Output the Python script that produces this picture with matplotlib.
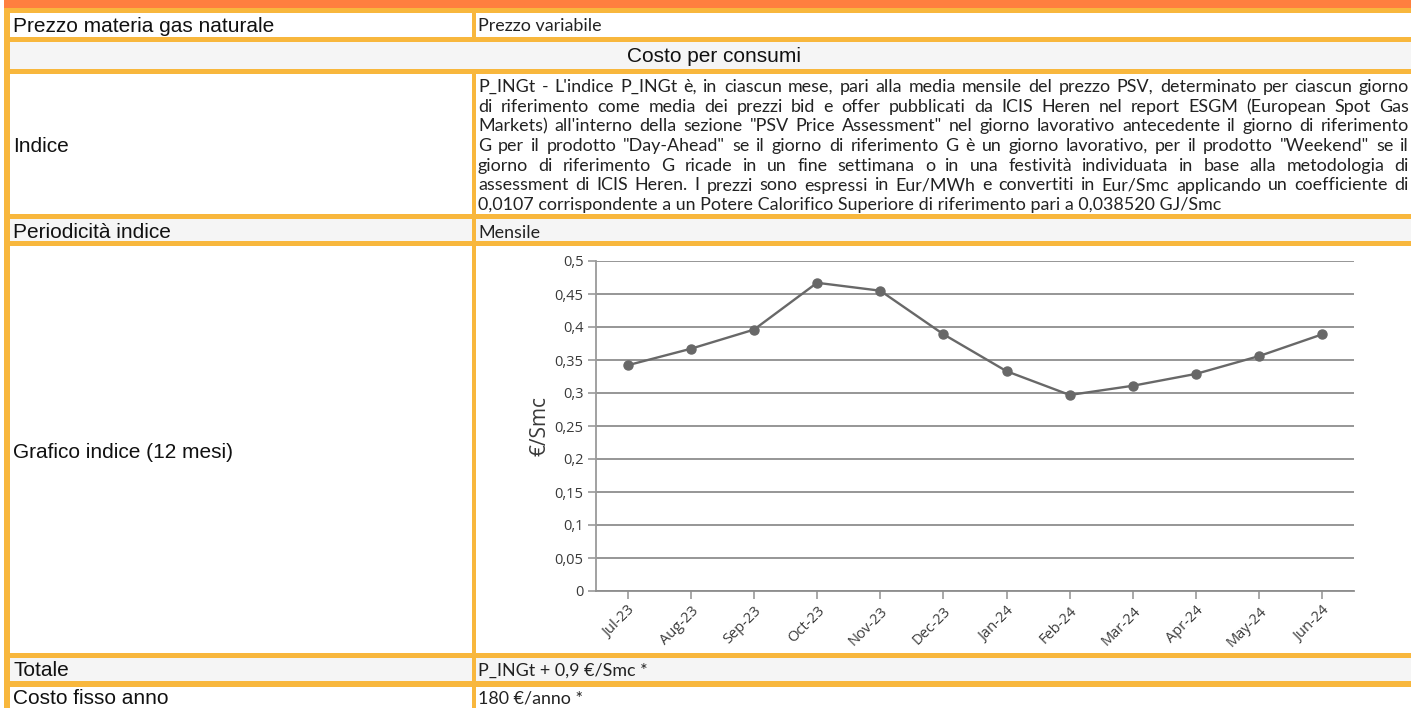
import numpy as np
import matplotlib
matplotlib.use('Agg')
import matplotlib.pyplot as plt
from matplotlib.patches import Rectangle

# chart data
months = ['Jul-23', 'Aug-23', 'Sep-23', 'Oct-23', 'Nov-23', 'Dec-23',
          'Jan-24', 'Feb-24', 'Mar-24', 'Apr-24', 'May-24', 'Jun-24']
prices = [0.342, 0.367, 0.396, 0.467, 0.455, 0.389,
          0.333, 0.297, 0.311, 0.329, 0.356, 0.389]
yticks = [0, 0.05, 0.1, 0.15, 0.2, 0.25, 0.3, 0.35, 0.4, 0.45, 0.5]
ylabel = '€/Smc'

# table text
left_labels = ['Prezzo materia gas naturale', 'Indice', 'Periodicità indice',
               'Grafico indice (12 mesi)', 'Totale', 'Costo fisso anno']
section_title = 'Costo per consumi'
right_values = ['Prezzo variabile', 'Mensile', 'P_INGt + 0,9 €/Smc *', '180 €/anno *']
index_lines = [
    "P_INGt - L'indice P_INGt è, in ciascun mese, pari alla media mensile del prezzo PSV, determinato per ciascun giorno",
    "di riferimento come media dei prezzi bid e offer pubblicati da ICIS Heren nel report ESGM (European Spot Gas",
    "Markets) all'interno della sezione \"PSV Price Assessment\" nel giorno lavorativo antecedente il giorno di riferimento",
    "G per il prodotto \"Day-Ahead\" se il giorno di riferimento G è un giorno lavorativo, per il prodotto \"Weekend\" se il",
    "giorno di riferimento G ricade in un fine settimana o in una festività individuata in base alla metodologia di",
    "assessment di ICIS Heren. I prezzi sono espressi in Eur/MWh e convertiti in Eur/Smc applicando un coefficiente di",
    "0,0107 corrispondente a un Potere Calorifico Superiore di riferimento pari a 0,038520 GJ/Smc",
]

W, H = 1411, 708
ORANGE = '#ff7f3f'
YELLOW = '#f8b73d'
GRAY = '#f5f5f5'
LABEL_FONT = ['Liberation Sans', 'DejaVu Sans']
BODY_FONT = ['Lato', 'DejaVu Sans']
CHART_FONT = ['Open Sans', 'DejaVu Sans']

fig = plt.figure(figsize=(W / 100, H / 100), dpi=100)
bg = fig.add_axes([0, 0, 1, 1])
bg.set_xlim(0, W)
bg.set_ylim(H, 0)
bg.axis('off')
renderer = fig.canvas.get_renderer()

# frame: orange strip on top, yellow grid lines underneath the cells
bg.add_patch(Rectangle((4, 0), W, 7.5, color=ORANGE, lw=0))
bg.add_patch(Rectangle((4, 7.5), W, H, color=YELLOW, lw=0))

rows = [(12.7, 36.7, 'white'), (41.7, 69, GRAY), (74, 213.5, 'white'),
        (218.5, 240.7, GRAY), (246, 653.3, 'white'), (658.3, 680.7, GRAY),
        (686.7, H, 'white')]
split_l, split_r = 471.5, 476
for i, (top, bot, col) in enumerate(rows):
    if i == 1:
        bg.add_patch(Rectangle((10, top), W, bot - top, color=col, lw=0))
    else:
        bg.add_patch(Rectangle((10, top), split_l - 10, bot - top, color=col, lw=0))
        bg.add_patch(Rectangle((split_r, top), W, bot - top, color=col, lw=0))


def row_mid(r):
    top, bot, _ = rows[r]
    # browser puts the text a little below the exact middle
    return (top + bot) / 2 + (3 if bot - top > 60 else 1.5)


# left column labels
label_rows = [0, 2, 3, 4, 5, 6]
for lab, r in zip(left_labels, label_rows):
    bg.text(13, row_mid(r) if r != 3 else row_mid(r) + 1.5, lab, fontsize=15,
            family=LABEL_FONT, color='#111111', va='center', ha='left')

bg.text(714, row_mid(1), section_title, fontsize=15,
        family=LABEL_FONT, color='#111111', va='center', ha='center')

# body font size: fit the last (unjustified) paragraph line to its width in the reference
probe = bg.text(0, 0, index_lines[-1], fontsize=11, family=BODY_FONT)
body_fs = 11 * 744 / probe.get_window_extent(renderer).width
probe.remove()

# right column single values
for val, r in zip(right_values, [0, 3, 5, 6]):
    bg.text(478, row_mid(r) if r != 3 else row_mid(r) + 1.5, val, fontsize=body_fs,
            family=BODY_FONT, color='#222222', va='center', ha='left')

# justified paragraph
x0, x1 = 478, 1409
for i, line in enumerate(index_lines):
    y = 87 + i * 19.7
    if i == len(index_lines) - 1:
        bg.text(x0, y, line, fontsize=body_fs, family=BODY_FONT, color='#222222',
                va='center', ha='left')
        continue
    words = line.split(' ')
    arts = [bg.text(0, y, w, fontsize=body_fs, family=BODY_FONT, color='#222222',
                    va='center', ha='left') for w in words]
    widths = [a.get_window_extent(renderer).width for a in arts]
    gap = (x1 - x0 - sum(widths)) / (len(words) - 1)
    x = x0
    for a, w in zip(arts, widths):
        a.set_x(x)
        x += w + gap

# line chart
ax_l, ax_r, ax_t, ax_b = 596, 1354, 261, 591
ax = fig.add_axes([ax_l / W, (H - ax_b) / H, (ax_r - ax_l) / W, (ax_b - ax_t) / H])
ax.set_facecolor('none')
xs = np.arange(len(months))
ax.plot(xs, prices, color='#686868', lw=1.7, marker='o', markersize=6.5, zorder=3)
ax.set_xlim(-0.5, len(months) - 0.5)
ax.set_ylim(0, 0.5)
ax.set_yticks(yticks)
ax.set_yticklabels([('%g' % v).replace('.', ',') for v in yticks])
ax.set_xticks(xs)
ax.set_xticklabels(months, rotation=45, ha='right', va='top', rotation_mode='anchor')
for v in yticks:
    ax.axhline(v, color='#8e8e8e', lw=1.3, zorder=1)
for s in ['top', 'right']:
    ax.spines[s].set_visible(False)
ax.spines['left'].set_color('#9a9a9a')
ax.spines['bottom'].set_color('#8e8e8e')
ax.spines['left'].set_linewidth(1.3)
ax.spines['bottom'].set_linewidth(1.3)
ax.tick_params(axis='both', colors='#9a9a9a', length=6, width=1.2, labelcolor='#3a3a3a',
               labelsize=10.5, pad=3)
for t in ax.get_xticklabels() + ax.get_yticklabels():
    t.set_family(CHART_FONT)
ax.set_ylabel(ylabel, fontsize=15, family=CHART_FONT, color='#3a3a3a', labelpad=3)

fig.savefig('out.png', dpi=100)
